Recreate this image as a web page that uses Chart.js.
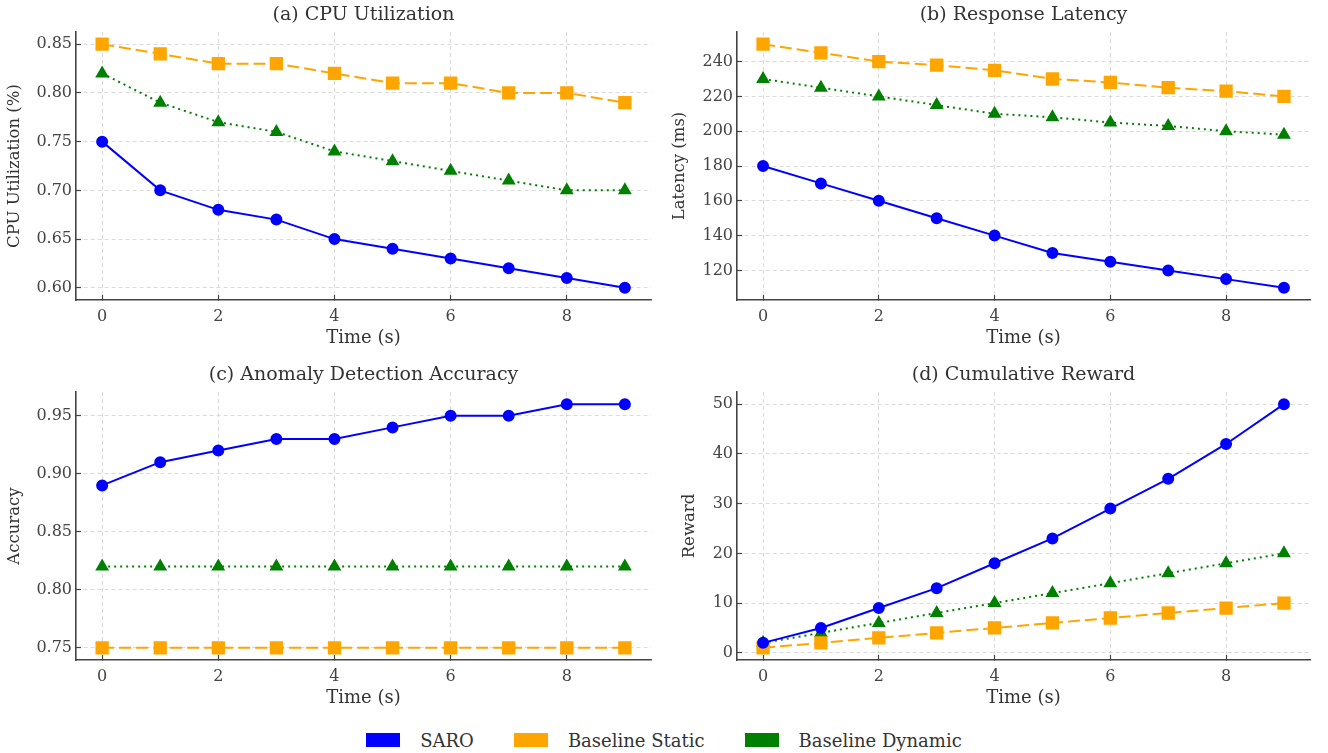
<!DOCTYPE html>
<html>
<head>
<meta charset="utf-8">
<script src="https://cdn.jsdelivr.net/npm/chart.js@4"></script>
<style>
  body { margin: 0; background: #fff; width: 1328px; height: 753px; position: relative; overflow: hidden; }
  canvas { position: absolute; }
  #legend { position: absolute; left: 0; width: 1328px; top: 727px; height: 26px; display: flex; justify-content: center; align-items: center;
            font-family: "DejaVu Serif", serif; font-size: 18px; color: #333; }
  .item { display: flex; align-items: center; margin: 0 20px; }
  .box { width: 34px; height: 14px; margin-right: 20px; }
</style>
</head>
<body>
<canvas id="cpu" width="664" height="360" style="left:0;top:0"></canvas>
<canvas id="lat" width="664" height="360" style="left:664px;top:0"></canvas>
<canvas id="acc" width="664" height="360" style="left:0;top:360px"></canvas>
<canvas id="rew" width="664" height="360" style="left:664px;top:360px"></canvas>
<div id="legend"></div>
<script>
const times = [0, 1, 2, 3, 4, 5, 6, 7, 8, 9];
const xTicks = [0, 2, 4, 6, 8];
const seriesNames = ['SARO', 'Baseline Static', 'Baseline Dynamic'];

// (a) CPU utilization
const cpuSaro    = [0.75, 0.70, 0.68, 0.67, 0.65, 0.64, 0.63, 0.62, 0.61, 0.60];
const cpuStatic  = [0.85, 0.84, 0.83, 0.83, 0.82, 0.81, 0.81, 0.80, 0.80, 0.79];
const cpuDynamic = [0.82, 0.79, 0.77, 0.76, 0.74, 0.73, 0.72, 0.71, 0.70, 0.70];
const cpuTicks   = [0.60, 0.65, 0.70, 0.75, 0.80, 0.85];

// (b) response latency
const latSaro    = [180, 170, 160, 150, 140, 130, 125, 120, 115, 110];
const latStatic  = [250, 245, 240, 238, 235, 230, 228, 225, 223, 220];
const latDynamic = [230, 225, 220, 215, 210, 208, 205, 203, 200, 198];
const latTicks   = [120, 140, 160, 180, 200, 220, 240];

// (c) anomaly detection accuracy
const accSaro    = [0.89, 0.91, 0.92, 0.93, 0.93, 0.94, 0.95, 0.95, 0.96, 0.96];
const accStatic  = [0.75, 0.75, 0.75, 0.75, 0.75, 0.75, 0.75, 0.75, 0.75, 0.75];
const accDynamic = [0.82, 0.82, 0.82, 0.82, 0.82, 0.82, 0.82, 0.82, 0.82, 0.82];
const accTicks   = [0.75, 0.80, 0.85, 0.90, 0.95];

// (d) cumulative reward
const rewSaro    = [2, 5, 9, 13, 18, 23, 29, 35, 42, 50];
const rewStatic  = [1, 2, 3, 4, 5, 6, 7, 8, 9, 10];
const rewDynamic = [2, 4, 6, 8, 10, 12, 14, 16, 18, 20];
const rewTicks   = [0, 10, 20, 30, 40, 50];

const colors = ['#0000ff', '#ffa500', '#008000'];
const FONT = '"DejaVu Serif", serif';

function pts(values) {
  return values.map((v, i) => ({ x: times[i], y: v }));
}

// matplotlib-like 5% margin around the data
function padRange(arrays) {
  const all = [].concat(...arrays);
  const lo = Math.min(...all), hi = Math.max(...all);
  const m = (hi - lo) * 0.05;
  return [lo - m, hi + m];
}

// subplot title centred over the plot area (not the whole canvas)
const axesTitle = {
  id: 'axesTitle',
  afterDraw(chart, args, opts) {
    const { ctx, chartArea } = chart;
    ctx.save();
    ctx.font = `19px ${FONT}`;
    ctx.fillStyle = '#333';
    ctx.textAlign = 'center';
    ctx.textBaseline = 'middle';
    ctx.fillText(opts.text, (chartArea.left + chartArea.right) / 2, 15);
    ctx.restore();
  }
};

function makeChart(id, title, yLabel, saro, stat, dyn, yTicks, decimals, yWidth, yTitlePad, rightPad) {
  const [ymin, ymax] = padRange([saro, stat, dyn]);
  // negative tick length -> ticks point into the plot, like the original
  const gridCommon = {
    color: '#d0d0d0', lineWidth: 0.8, tickLength: -5, tickColor: '#444', tickWidth: 1.2, tickBorderDash: []
  };
  const borderCommon = { display: true, color: '#444', width: 1.6, dash: [4, 3] };
  return new Chart(document.getElementById(id), {
    type: 'line',
    data: {
      datasets: [
        { label: seriesNames[0], data: pts(saro), borderColor: colors[0], backgroundColor: colors[0],
          borderWidth: 2, pointStyle: 'circle', pointRadius: 5 },
        { label: seriesNames[1], data: pts(stat), borderColor: colors[1], backgroundColor: colors[1],
          borderWidth: 2, borderDash: [12, 5], pointStyle: 'rect', pointRadius: 8 },
        { label: seriesNames[2], data: pts(dyn), borderColor: colors[2], backgroundColor: colors[2],
          borderWidth: 2, borderDash: [2, 4], pointStyle: 'triangle', pointRadius: 6 }
      ]
    },
    options: {
      responsive: false,
      animation: false,
      layout: { padding: { left: 0, right: rightPad, top: 32, bottom: 0 } },
      plugins: {
        legend: { display: false },
        tooltip: { enabled: false },
        axesTitle: { text: title }
      },
      scales: {
        x: {
          type: 'linear', min: -0.45, max: 9.45,
          afterBuildTicks: s => { s.ticks = xTicks.map(v => ({ value: v })); },
          afterFit: s => { s.height = 60; },
          ticks: { color: '#444', font: { family: FONT, size: 16 }, padding: 12, callback: v => String(v) },
          grid: gridCommon, border: borderCommon,
          title: { display: true, text: 'Time (s)', color: '#333', font: { family: FONT, size: 18 },
                   padding: { top: 0, bottom: 11.2 } }
        },
        y: {
          min: ymin, max: ymax,
          afterBuildTicks: s => { s.ticks = yTicks.map(v => ({ value: v })); },
          afterFit: s => { s.width = yWidth; },
          ticks: { color: '#444', font: { family: FONT, size: 16 }, padding: 9,
                   callback: v => v.toFixed(decimals) },
          grid: gridCommon, border: borderCommon,
          title: { display: true, text: yLabel, color: '#333', font: { family: FONT, size: 16.5 },
                   padding: { top: yTitlePad, bottom: 0 } }
        }
      }
    },
    plugins: [axesTitle]
  });
}

makeChart('cpu', '(a) CPU Utilization', 'CPU Utilization (%)', cpuSaro, cpuStatic, cpuDynamic, cpuTicks, 2, 76, 5.2, 13);
makeChart('lat', '(b) Response Latency', 'Latency (ms)', latSaro, latStatic, latDynamic, latTicks, 0, 73, 6.2, 18);
makeChart('acc', '(c) Anomaly Detection Accuracy', 'Accuracy', accSaro, accStatic, accDynamic, accTicks, 2, 76, 5.2, 13);
makeChart('rew', '(d) Cumulative Reward', 'Reward', rewSaro, rewStatic, rewDynamic, rewTicks, 0, 73, 16.2, 18);

// shared legend at the bottom
const legend = document.getElementById('legend');
seriesNames.forEach((name, i) => {
  legend.innerHTML += `<div class="item"><div class="box" style="background:${colors[i]}"></div><span>${name}</span></div>`;
});
</script>
</body>
</html>
